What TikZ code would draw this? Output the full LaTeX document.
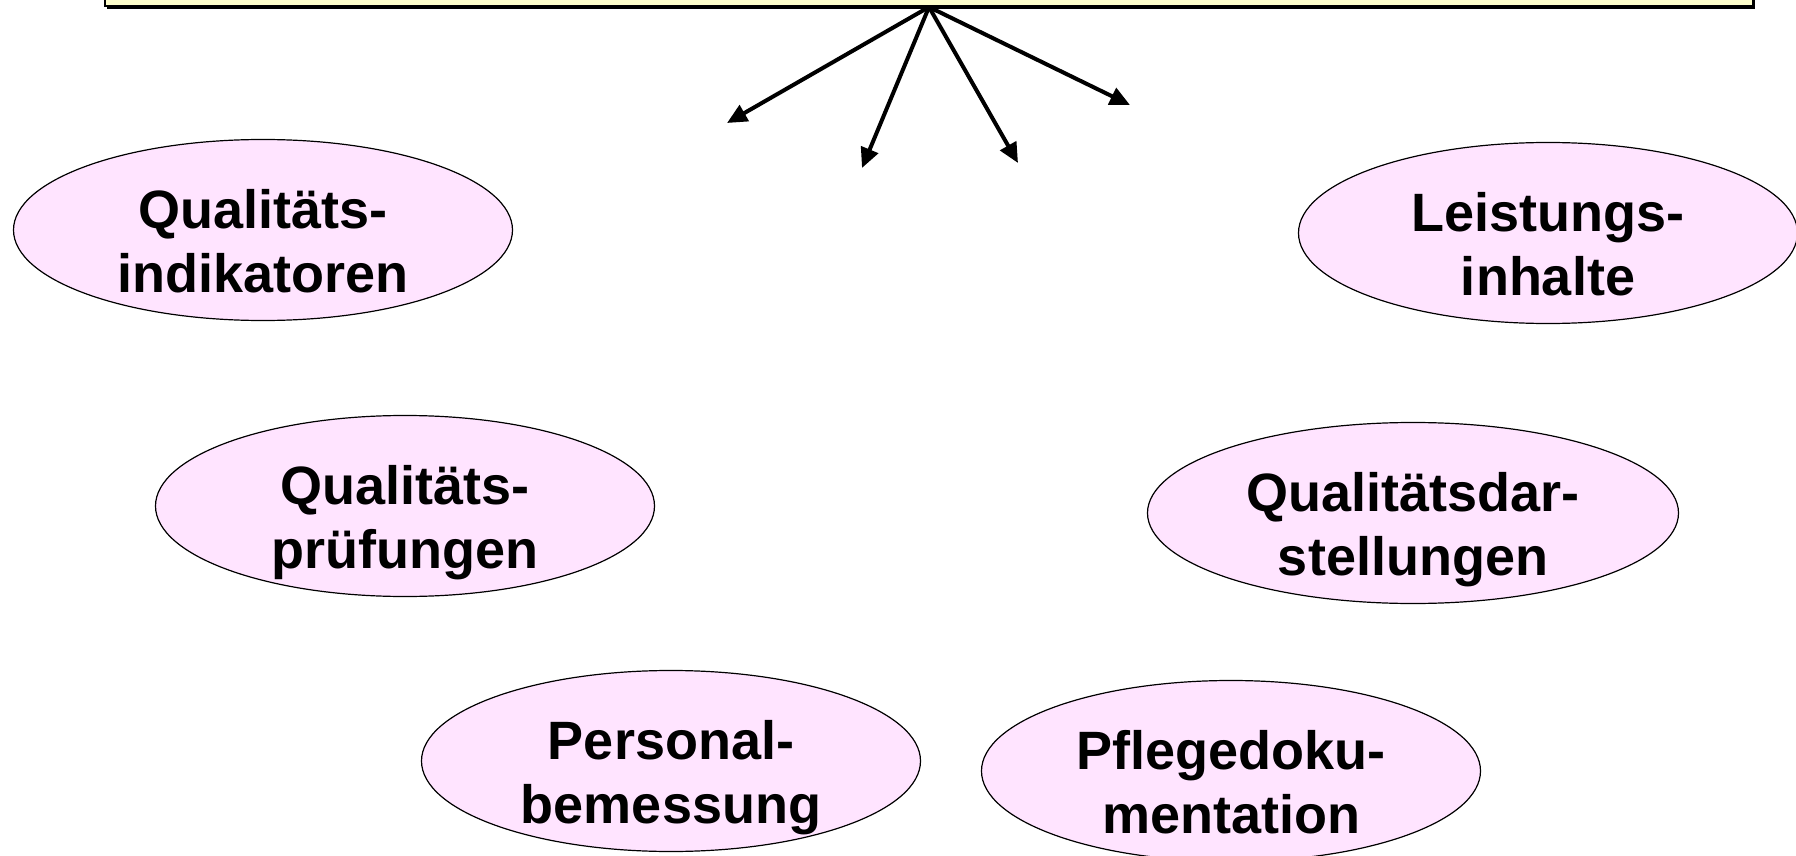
\documentclass[tikz,border=0pt]{standalone}
\usepackage{fontspec}
\setmainfont{Liberation Sans}
\usepackage{tikz}
\usetikzlibrary{shapes,arrows.meta,positioning,calc,shadows}
\usepackage{xcolor}
\definecolor{boxyellow}{RGB}{255,255,204}
\definecolor{ovalpink}{RGB}{255,228,255}
% two centred lines, set a little below the middle of the oval
\newcommand{\twoline}[2]{\raisebox{-9pt}[\height][\depth]{\begin{tabular}{@{}c@{}}#1\\#2\end{tabular}}}

\begin{document}
\begin{tikzpicture}[x=0.5pt, y=-0.5pt,
    every node/.style={font=\fontsize{27pt}{31.7pt}\selectfont\bfseries},
    topic/.style={draw, ellipse, fill=ovalpink, line width=0.6pt, inner sep=0pt,
                  minimum width=249.5pt, minimum height=90.5pt},
    topbox/.style={draw, fill=boxyellow, line width=0.8pt, inner sep=0pt,
                   general shadow={fill=black, shadow xshift=1.2pt, shadow yshift=-1.2pt}},
    spoke/.style={line width=2pt, -{Triangle[length=10pt, width=9pt]}}]
            \clip (0,0) rectangle (1796,856);

            % Box at the top (its text lies above the picture)
            \node[topbox, anchor=south, minimum width=824pt, minimum height=100pt] (Top) at (929,7) {};

            % Arrows out of the box
            \coordinate (A1) at (727,123);
            \coordinate (A2) at (862,168);
            \coordinate (A3) at (1018,163);
            \coordinate (A4) at (1130,105);
            \draw[spoke] (Top.south) -- (A1);
            \draw[spoke] (Top.south) -- (A2);
            \draw[spoke] (Top.south) -- (A3);
            \draw[spoke] (Top.south) -- (A4);

            % Left ovals
            \node[topic] (QInd) at (263,230) {\twoline{Qualitäts-}{indikatoren}};
            \node[topic] (QPruef) at (405,506) {\twoline{Qualitäts-}{prüfungen}};
            \node[topic] (PersBem) at (671,761) {\twoline{Personal-}{bemessung}};

            % Right ovals
            \node[topic] (LInh) at (1548,233) {\twoline{Leistungs-}{inhalte}};
            \node[topic, minimum width=265.5pt] (QDar) at (1413,513) {\twoline{Qualitätsdar-}{stellungen}};
            \node[topic] (PflDok) at (1231,771) {\twoline{Pflegedoku-}{mentation}};
\end{tikzpicture}
\end{document}
